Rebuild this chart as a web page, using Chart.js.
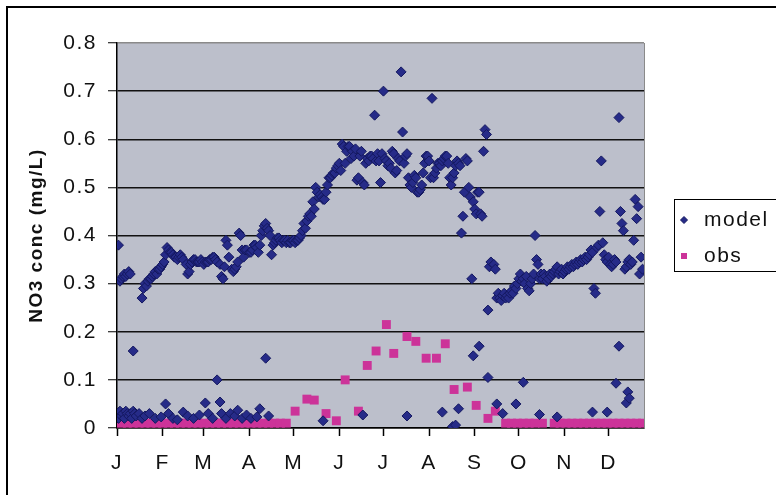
<!DOCTYPE html>
<html><head><meta charset="utf-8">
<style>html,body{margin:0;padding:0;background:#fff;}canvas{display:block;}</style>
<script src="https://cdn.jsdelivr.net/npm/chart.js@4.4.1/dist/chart.umd.min.js"></script>
</head><body>
<canvas id="c" width="776" height="495"></canvas>
<script>
const monthLabels = ['J','F','M','A','M','J','J','A','S','O','N','D'];
const monthStartDays = [0,31,59,90,120,151,181,212,243,273,304,334];
const yTickValues = [0,0.1,0.2,0.3,0.4,0.5,0.6,0.7,0.8];
const seriesNames = ['model','obs'];

// model: [day of year, NO3 mg/L] - main seasonal cloud
const modelMain = [
 [1,0.38],[2,0.305],[3,0.31],[4,0.315],[5,0.32],[6,0.315],[7,0.32],[8,0.325],[9,0.32],[11,0.16],
 [17,0.27],[18,0.29],[19,0.30],[20,0.295],[21,0.305],[22,0.31],[23,0.31],[24,0.315],[25,0.32],[26,0.325],[27,0.32],[28,0.33],[29,0.33],[30,0.335],
 [31,0.34],[32,0.345],[33,0.36],[34,0.375],[35,0.37],[36,0.365],[37,0.365],[38,0.36],[39,0.355],[40,0.355],[41,0.35],[42,0.355],[43,0.36],[44,0.355],[45,0.35],[47,0.34],[48,0.32],[49,0.325],[50,0.34],[51,0.345],[52,0.35],[53,0.35],[54,0.345],[55,0.345],[56,0.345],[57,0.35],[58,0.345],
 [59,0.34],[60,0.345],[61,0.345],[62,0.345],[63,0.35],[64,0.35],[65,0.355],[66,0.355],[67,0.35],[68,0.345],[70,0.34],[71,0.315],[72,0.31],[73,0.335],[74,0.39],[75,0.38],[76,0.355],[78,0.33],[79,0.325],[80,0.33],[81,0.335],[82,0.345],[83,0.405],[84,0.40],[85,0.37],[86,0.355],[87,0.37],[88,0.37],
 [90,0.365],[91,0.365],[92,0.37],[93,0.38],[94,0.38],[95,0.375],[96,0.365],[97,0.38],[98,0.40],[99,0.41],[100,0.42],[101,0.425],[102,0.415],[103,0.41],[104,0.40],[105,0.36],[106,0.38],[107,0.385],[108,0.39],[109,0.395],[110,0.395],[111,0.39],[112,0.385],[113,0.39],[114,0.39],[115,0.385],[116,0.39],[117,0.385],[118,0.385],[119,0.39],
 [120,0.39],[121,0.385],[122,0.39],[123,0.39],[124,0.395],[125,0.40],[126,0.41],[127,0.425],[128,0.415],[129,0.43],[130,0.44],[131,0.445],[132,0.44],[133,0.47],[134,0.455],[135,0.50],[136,0.49],[137,0.48],[138,0.485],[139,0.48],[140,0.475],[141,0.475],[142,0.49],[143,0.505],[144,0.52],[145,0.52],[146,0.525],[147,0.53],[148,0.53],[149,0.54],[150,0.545],
 [151,0.55],[152,0.535],[153,0.59],[154,0.585],[155,0.55],[156,0.575],[157,0.585],[158,0.585],[159,0.56],[160,0.575],[161,0.565],[162,0.58],[163,0.515],[164,0.52],[165,0.565],[166,0.575],[167,0.51],[168,0.505],[169,0.55],[170,0.56],[171,0.555],[172,0.565],[173,0.565],[174,0.56],[175,0.65],[176,0.555],[177,0.57],[178,0.555],[179,0.51],[180,0.57],
 [181,0.70],[182,0.56],[183,0.555],[184,0.545],[185,0.55],[186,0.54],[187,0.575],[188,0.57],[189,0.53],[190,0.535],[191,0.56],[192,0.555],[193,0.74],[194,0.615],[195,0.55],[196,0.565],[197,0.57],[198,0.52],[199,0.505],[200,0.50],[201,0.51],[202,0.525],[203,0.52],[204,0.49],[205,0.49],[206,0.495],[207,0.505],[208,0.53],[209,0.55],[210,0.565],[211,0.565],
 [212,0.555],[213,0.52],[214,0.685],[215,0.52],[216,0.53],[217,0.54],[218,0.55],[219,0.55],[220,0.545],[221,0.555],[222,0.56],[223,0.565],[224,0.565],[225,0.55],[226,0.52],[227,0.505],[228,0.52],[229,0.53],[230,0.545],[231,0.555],[232,0.55],[233,0.545],[234,0.405],[235,0.44],[236,0.49],[237,0.56],[238,0.555],[239,0.50],[240,0.48],[241,0.31],[242,0.47],
 [243,0.455],[244,0.445],[245,0.49],[246,0.49],[247,0.445],[248,0.44],[249,0.575],[250,0.62],[251,0.61],[252,0.245],[253,0.335],[254,0.345],[256,0.34],[257,0.33],[258,0.27],[259,0.28],[260,0.27],[261,0.265],[262,0.275],[263,0.28],[264,0.27],[265,0.275],[266,0.27],[267,0.28],[268,0.285],[269,0.28],[270,0.295],[271,0.29],[272,0.30],
 [273,0.31],[274,0.32],[275,0.305],[276,0.31],[277,0.30],[278,0.315],[279,0.29],[280,0.285],[281,0.30],[282,0.31],[283,0.32],[284,0.40],[285,0.35],[286,0.34],[287,0.31],[288,0.32],[289,0.31],[290,0.32],[291,0.315],[292,0.305],[293,0.31],[294,0.32],[295,0.315],[296,0.32],[297,0.325],[298,0.33],[299,0.335],[300,0.32],[301,0.325],[302,0.33],[303,0.32],
 [304,0.325],[305,0.33],[306,0.335],[307,0.33],[308,0.335],[309,0.34],[310,0.335],[311,0.34],[312,0.345],[313,0.34],[314,0.345],[315,0.35],[316,0.345],[317,0.35],[318,0.355],[319,0.35],[320,0.355],[321,0.36],[322,0.37],[323,0.365],[324,0.29],[325,0.28],[326,0.375],[327,0.38],[328,0.45],[329,0.555],[330,0.385],[331,0.36],[332,0.35],[333,0.345],
 [334,0.355],[335,0.34],[336,0.335],[337,0.34],[338,0.35],[339,0.345],[341,0.645],[342,0.45],[343,0.425],[344,0.41],[345,0.33],[346,0.335],[347,0.345],[348,0.35],[349,0.34],[350,0.345],[351,0.39],[352,0.475],[353,0.435],[354,0.46],[355,0.32],[356,0.355],[357,0.33]
];
// model: low-value points near zero
const modelLow = [
 [0,0.03],[1,0.02],[2,0.035],[3,0.025],[4,0.03],[5,0.02],[6,0.035],[7,0.03],[8,0.025],[9,0.03],[10,0.02],[11,0.035],[12,0.03],[13,0.025],[15,0.03],[17,0.02],[19,0.025],[22,0.03],[26,0.02],[30,0.023],[33,0.05],[35,0.03],[38,0.02],[41,0.017],[45,0.033],[48,0.025],[52,0.02],[56,0.027],[60,0.052],[62,0.03],[65,0.02],[68,0.10],[70,0.054],[71,0.03],[74,0.02],[77,0.03],[80,0.025],[82,0.037],[85,0.02],[88,0.027],[91,0.02],[95,0.023],[97,0.04],[101,0.145],[103,0.025],
 [140,0.015],[167,0.027],[197,0.025],[221,0.033],[228,0.003],[230,0.006],[232,0.04],[242,0.15],[246,0.17],[252,0.105],[258,0.05],[262,0.03],[271,0.05],[276,0.095],[287,0.028],[299,0.023],[323,0.033],[333,0.033],[339,0.093],[341,0.17],[346,0.052],[347,0.075],[348,0.062]
];
// obs: [day of year, NO3 mg/L]
const obsValues = [
 [3,0.01],[7,0.01],[11,0.01],[15,0.01],[19,0.01],[23,0.01],[27,0.01],[31,0.01],[35,0.01],[39,0.01],[43,0.01],[47,0.01],[51,0.01],[55,0.01],[59,0.01],[63,0.01],[67,0.01],[71,0.01],[75,0.01],[79,0.01],[83,0.01],[87,0.01],[91,0.01],[95,0.01],[99,0.01],[103,0.01],[107,0.01],[111,0.01],[115,0.01],
 [121,0.035],[129,0.06],[134,0.058],[142,0.03],[149,0.015],[155,0.10],[164,0.035],[170,0.13],[176,0.16],[183,0.215],[188,0.155],[197,0.19],[203,0.18],[210,0.145],[217,0.145],[223,0.175],[229,0.08],[238,0.085],[244,0.047],[252,0.02],[257,0.035],
 [264,0.01],[268,0.01],[272,0.01],[276,0.01],[280,0.01],[284,0.01],[289,0.01],[297,0.01],[301,0.01],[305,0.01],[309,0.01],[313,0.01],[317,0.01],[321,0.01],[325,0.01],[329,0.01],[333,0.01],[337,0.01],[341,0.01],[345,0.01],[349,0.01],[353,0.01],[357,0.01]
];

const FONT = "'Liberation Sans', Arial, sans-serif";
const MODEL_COLOR = '#262B88';
const MODEL_EDGE = '#141860';
const OBS_COLOR = '#CC3399';
const SPACING = '1.5px';

const toPts = arr => arr.map(p => ({x: p[0], y: p[1]}));

const stylePlugin = {
  id: 'style',
  beforeLayout(chart) { chart.ctx.letterSpacing = SPACING; },
  beforeDraw(chart) {
    const {ctx, chartArea: a} = chart;
    ctx.letterSpacing = SPACING;
    ctx.save();
    ctx.fillStyle = '#fff';
    ctx.fillRect(0, 0, chart.width, chart.height);
    ctx.fillStyle = '#BCBFCB';
    ctx.fillRect(a.left, a.top, a.right - a.left, a.bottom - a.top);
    ctx.restore();
  },
  beforeDatasetsDraw(chart) {
    const {ctx, chartArea: a} = chart;
    ctx.save();
    ctx.strokeStyle = '#8a8a8a';
    ctx.lineWidth = 1;
    ctx.beginPath();
    ctx.moveTo(a.right + 0.5, a.top);
    ctx.lineTo(a.right + 0.5, a.bottom);
    ctx.stroke();
    ctx.restore();
  },
  afterDraw(chart) {
    const ctx = chart.ctx;
    ctx.save();
    // outer chart frame
    ctx.strokeStyle = '#000';
    ctx.lineWidth = 2;
    ctx.strokeRect(7, 7, 900, 900);
    // legend box
    ctx.lineWidth = 1;
    ctx.strokeRect(674.5, 199.5, 200, 72);
    ctx.fillStyle = MODEL_COLOR; ctx.strokeStyle = MODEL_EDGE;
    ctx.beginPath();
    ctx.moveTo(684, 216.5); ctx.lineTo(687.5, 220); ctx.lineTo(684, 223.5); ctx.lineTo(680.5, 220); ctx.closePath();
    ctx.fill(); ctx.stroke();
    ctx.fillStyle = OBS_COLOR;
    ctx.fillRect(681, 253, 6, 6);
    ctx.fillStyle = '#111';
    ctx.font = '21px ' + FONT;
    ctx.letterSpacing = SPACING;
    ctx.textBaseline = 'middle';
    ctx.textAlign = 'left';
    ctx.fillText(seriesNames[0], 704, 220);
    ctx.fillText(seriesNames[1], 704, 256);
    ctx.restore();
  }
};

new Chart(document.getElementById('c'), {
  type: 'scatter',
  data: {
    datasets: [
      {label: seriesNames[0], data: toPts(modelMain.concat(modelLow)), pointStyle: 'rectRot', pointRadius: 5,
       backgroundColor: MODEL_COLOR, borderColor: MODEL_EDGE, borderWidth: 1},
      {label: seriesNames[1], data: toPts(obsValues), pointStyle: 'rect', pointRadius: 6.3,
       backgroundColor: OBS_COLOR, borderColor: OBS_COLOR, borderWidth: 0}
    ]
  },
  options: {
    responsive: false, animation: false, devicePixelRatio: 1,
    layout: {padding: {left: 10, right: 132, top: 43, bottom: 0}},
    plugins: {legend: {display: false}, tooltip: {enabled: false}},
    scales: {
      x: {
        type: 'linear', min: 0, max: 358,
        afterBuildTicks: s => { s.ticks = monthStartDays.map(v => ({value: v})); },
        afterFit: s => { s.height = 67; },
        ticks: {callback: (v, i) => monthLabels[i], autoSkip: false, maxRotation: 0, minRotation: 0,
                font: {family: FONT, size: 21}, color: '#111', padding: 15},
        grid: {drawOnChartArea: false, drawTicks: true, tickLength: 8, tickColor: '#000', tickWidth: 1.5},
        border: {display: true, color: '#000', width: 1.5}
      },
      y: {
        min: 0, max: 0.8,
        afterBuildTicks: s => { s.ticks = yTickValues.map(v => ({value: v})); },
        afterFit: s => { s.width = 107; },
        ticks: {callback: v => v === 0 ? '0' : v.toFixed(1), font: {family: FONT, size: 21}, color: '#111', padding: 11},
        grid: {color: c => (c.tick && c.tick.value === 0.8) ? '#8a8a8a' : '#111', lineWidth: 1.5,
               tickLength: 9, tickColor: '#000', tickWidth: 1},
        border: {display: true, color: '#000', width: 1.5},
        title: {display: true, text: 'NO3 conc (mg/L)', color: '#111', padding: {top: 15, bottom: 0},
                font: {family: FONT, size: 19, weight: 'bold'}}
      }
    }
  },
  plugins: [stylePlugin]
});
</script>
</body></html>
